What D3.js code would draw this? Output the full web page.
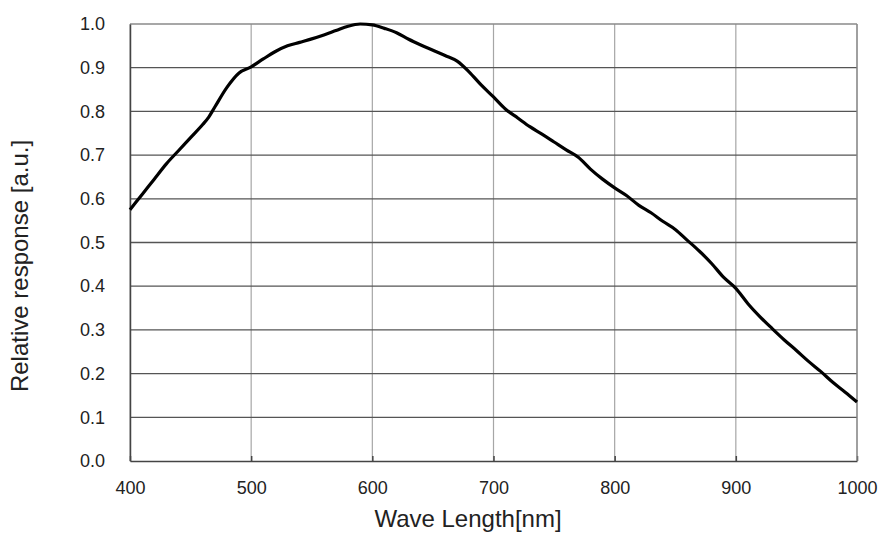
<!DOCTYPE html>
<html lang="en">
<head>
  <meta charset="UTF-8" />
  <title>relative response</title>
  <script src="https://d3js.org/d3.v7.min.js" charset="utf-8"></script>
  <style>
    body { margin: 0; background: #fff; }
    text { font-family: "Liberation Sans", Arial, sans-serif; fill: #222; }
  </style>
</head>
<body>
<script type="text/javascript">

const WIDTH = 880;
const HEIGHT = 534;
const margin = {top: 24, right: 23, bottom: 73, left: 130};

// data
const wavelength = [400, 410, 420, 430, 440, 450, 460, 465, 470, 480, 490, 500,
    510, 520, 530, 540, 550, 560, 570, 580, 590, 600, 610, 620, 630, 640, 650,
    660, 670, 680, 690, 700, 710, 720, 730, 740, 750, 760, 770, 780, 790, 800,
    810, 820, 830, 840, 850, 860, 870, 880, 890, 900, 910, 920, 930, 940, 950,
    960, 970, 980, 990, 1000];
const response = [0.575, 0.61, 0.645, 0.68, 0.71, 0.74, 0.77, 0.787, 0.81, 0.855, 0.888, 0.902,
    0.92, 0.937, 0.95, 0.958, 0.966, 0.975, 0.985, 0.995, 1.0, 0.998, 0.99, 0.98, 0.965, 0.952, 0.94,
    0.928, 0.915, 0.89, 0.86, 0.833, 0.805, 0.785, 0.765, 0.748, 0.73, 0.712, 0.695, 0.668, 0.645, 0.625,
    0.607, 0.585, 0.568, 0.548, 0.53, 0.505, 0.48, 0.452, 0.42, 0.395, 0.36, 0.33, 0.303, 0.277, 0.253,
    0.228, 0.205, 0.18, 0.158, 0.135];
const xTicks = [400, 500, 600, 700, 800, 900, 1000];
const yTicks = [0, 0.1, 0.2, 0.3, 0.4, 0.5, 0.6, 0.7, 0.8, 0.9, 1.0];

const data = wavelength.map((w, i) => ({w: w, v: response[i]}));

const w = WIDTH - margin.left - margin.right;
const h = HEIGHT - margin.top - margin.bottom;

const svg = d3.select("body")
    .append("svg")
        .attr("width", WIDTH)
        .attr("height", HEIGHT)
    .append("g")
        .attr("transform", `translate(${margin.left}, ${margin.top})`);

const x = d3.scaleLinear().domain([400, 1000]).range([0, w]);
const y = d3.scaleLinear().domain([0, 1]).range([h, 0]);

// vertical grid (light)
svg.append("g")
    .selectAll("line")
    .data(xTicks)
    .join("line")
        .attr("x1", d => x(d)).attr("x2", d => x(d))
        .attr("y1", 0).attr("y2", h)
        .attr("stroke", "#a6a6a6")
        .attr("stroke-width", 1.2);

// horizontal grid (dark)
svg.append("g")
    .selectAll("line")
    .data(yTicks.filter(d => d > 0 && d < 1))
    .join("line")
        .attr("x1", 0).attr("x2", w)
        .attr("y1", d => y(d)).attr("y2", d => y(d))
        .attr("stroke", "#555")
        .attr("stroke-width", 1.3);

// top border
svg.append("line")
    .attr("x1", 0).attr("x2", w)
    .attr("y1", y(1)).attr("y2", y(1))
    .attr("stroke", "#8a8a8a")
    .attr("stroke-width", 1.3);

// y axis
svg.append("g")
    .call(d3.axisLeft(y)
        .tickValues(yTicks)
        .tickSize(0)
        .tickPadding(25)
        .tickFormat(d3.format(".1f")))
    .call(g => g.select(".domain").attr("stroke", "#444").attr("stroke-width", 1.5))
    .call(g => g.selectAll(".tick text").attr("font-size", 18).attr("fill", "#222")
        .attr("font-family", "Liberation Sans, Arial, sans-serif"));

// x axis, ticks point up into the plot
svg.append("g")
    .attr("transform", `translate(0, ${h})`)
    .call(d3.axisBottom(x)
        .tickValues(xTicks)
        .tickSizeInner(-5)
        .tickSizeOuter(0)
        .tickPadding(20)
        .tickFormat(d3.format("d")))
    .call(g => g.select(".domain").attr("stroke", "#444").attr("stroke-width", 1.5))
    .call(g => g.selectAll(".tick line").attr("stroke", "#444").attr("stroke-width", 1.5))
    .call(g => g.selectAll(".tick text").attr("font-size", 18).attr("fill", "#222")
        .attr("font-family", "Liberation Sans, Arial, sans-serif"));

// right border
svg.append("line")
    .attr("x1", w).attr("x2", w)
    .attr("y1", 0).attr("y2", h)
    .attr("stroke", "#8a8a8a")
    .attr("stroke-width", 1.3);

// curve
const line = d3.line()
    .x(d => x(d.w))
    .y(d => y(d.v))
    .curve(d3.curveMonotoneX);

svg.append("path")
    .datum(data)
    .attr("fill", "none")
    .attr("stroke", "#000")
    .attr("stroke-width", 3.2)
    .attr("stroke-linejoin", "round")
    .attr("d", line);

// labels
svg.append("text")
    .attr("x", 338)
    .attr("y", 503)
    .attr("text-anchor", "middle")
    .attr("font-size", 24)
    .text("Wave Length[nm]");

svg.append("text")
    .attr("transform", `translate(${-102}, ${242}) rotate(-90)`)
    .attr("text-anchor", "middle")
    .attr("font-size", 24)
    .text("Relative response [a.u.]");

</script>
</body>
</html>
